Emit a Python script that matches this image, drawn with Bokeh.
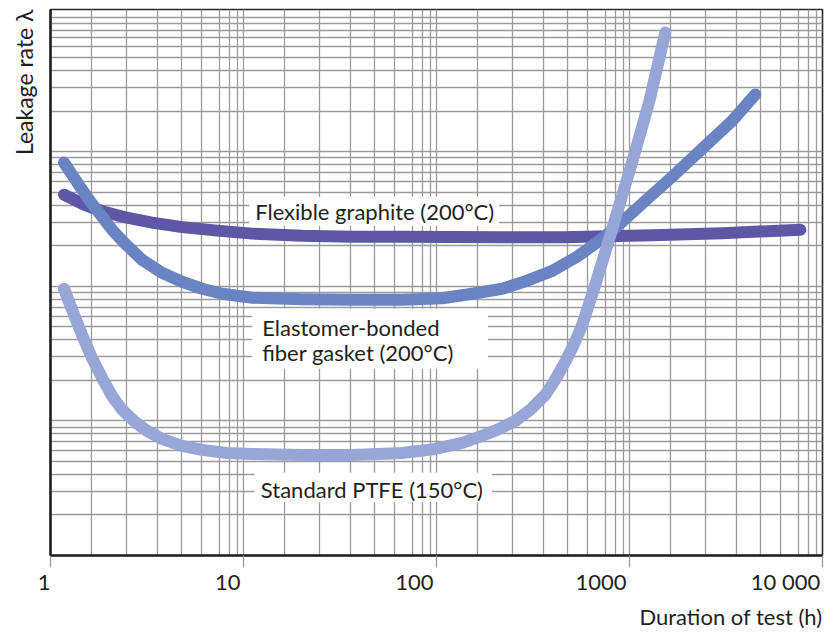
from bokeh.plotting import figure
from bokeh.models import Range1d, FixedTicker, Label, BoxAnnotation, LogAxis, Title
from bokeh.embed import file_html
from bokeh.resources import INLINE

# Test duration (h) and leakage rate (relative, log scale) per gasket type
graphite_hours = [1.175, 1.293, 1.457, 1.64, 1.963, 2.49, 3.36, 4.805, 7.30, 11.1, 20.1,
                  36.6, 66.4, 219, 449, 1313, 3027, 7680]
graphite_leak = [479, 447, 411, 384, 352, 323, 297, 275, 259, 246, 237,
                 233, 233, 231, 231, 239, 248, 263]

fiber_hours = [1.175, 1.293, 1.457, 1.64, 1.849, 2.084, 2.404, 2.981, 3.78, 4.805, 6.1,
               7.75, 11.1, 20.1, 36.6, 66.4, 107, 153, 219, 295, 398, 536, 722,
               918, 1164, 1667, 2384, 3412, 4487]
fiber_leak = [829, 674, 522, 411, 329, 263, 211, 157, 126, 108, 95.8,
              88.0, 82.1, 80.1, 79.4, 79.4, 81.4, 88.0, 95.8, 110, 130, 166, 226,
              302, 411, 652, 1053, 1700, 2655]

ptfe_hours = [1.175, 1.324, 1.457, 1.64, 1.849, 2.084, 2.348, 2.742, 3.164, 3.78, 4.805,
              6.1, 8.22, 11.1, 20.1, 36.6, 66.4, 98.5, 136, 166.5, 206, 256, 306, 366,
              412, 465, 517, 569, 665, 749, 844, 1034, 1266, 1533]
ptfe_leak = [95.8, 61.4, 43.6, 29.4, 20.9, 15.3, 12.1, 9.83, 8.43, 7.35, 6.52,
             6.09, 5.78, 5.68, 5.59, 5.59, 5.78, 6.19, 6.86, 7.60, 8.57, 10.0, 12.1, 15.6,
             20.2, 27.5, 37.4, 51.7, 103, 180, 318, 843, 2353, 7670]

x_decades = [1, 10, 100, 1000, 10000]
x_tick_labels = ["1\u2007", "10", "100", "1000", "10 000"]
# numbers sit to the left of their tick: pixel shift of each label's centre
x_label_shift_px = [0, 15.8, 22.1, 28.5, 37.0]
# in-decade grid multipliers of the printed time grid
x_grid_steps = [1.64, 2.49, 3.57, 4.75, 6.03, 7.47, 8.42, 9.32]
y_decades = [1, 10, 100, 1000, 10000]

FONT = "Lato"
INK = "#231f20"
GRID = "#9b9b9b"
FRAME_W = 772
X_LO, X_HI = 1, 10000
PX_PER_DECADE = FRAME_W / 4.0

p = figure(
    x_axis_type="log", y_axis_type="log",
    x_range=Range1d(X_LO, X_HI), y_range=Range1d(1, 11370),
    frame_width=FRAME_W, frame_height=546,
    min_border_left=48, min_border_right=16, min_border_top=9, min_border_bottom=79,
    output_backend="svg", toolbar_location=None,
)
p.background_fill_color = "white"
p.border_fill_color = "white"
p.outline_line_color = "#2a2a2a"
p.outline_line_width = 1.6

# grid
x_grid_ticks = []
for d in x_decades[:-1]:
    x_grid_ticks.append(d)
    x_grid_ticks.extend(d * s for s in x_grid_steps)
x_grid_ticks.append(x_decades[-1])
y_grid_ticks = [d * k for d in y_decades for k in range(1, 10) if d * k <= 11370]

p.xgrid.ticker = FixedTicker(ticks=x_grid_ticks, minor_ticks=[])
p.ygrid.ticker = FixedTicker(ticks=y_grid_ticks, minor_ticks=[])
for g in (p.xgrid, p.ygrid):
    g.grid_line_color = GRID
    g.grid_line_width = 1.3
    g.minor_grid_line_color = None

# x axis: heavy base line with outward decade ticks
xa = p.xaxis[0]
xa.ticker = FixedTicker(ticks=x_decades, minor_ticks=[])
xa.axis_line_color = INK
xa.axis_line_width = 2.5
xa.major_tick_line_color = GRID
xa.major_tick_line_width = 1.3
xa.major_tick_out = 12
xa.major_tick_in = 0
xa.minor_tick_line_color = None
xa.major_label_text_color = None
xa.major_label_text_font_size = "1px"
xa.major_label_standoff = 0

# second x axis carrying the numbers, each ending just left of its tick
label_pos = []
for v, shift in zip(x_decades, x_label_shift_px):
    pos = v * 10 ** (-shift / PX_PER_DECADE)
    label_pos.append(max(pos, X_LO))
num_axis = LogAxis(
    ticker=FixedTicker(ticks=label_pos, minor_ticks=[]),
    major_label_overrides={pos: s for pos, s in zip(label_pos, x_tick_labels)},
    axis_line_color=None, major_tick_line_color=None, minor_tick_line_color=None,
    major_tick_out=0, major_tick_in=0, major_label_standoff=0,
    major_label_text_font=FONT, major_label_text_font_size="22px",
    major_label_text_color=INK,
)
p.add_layout(num_axis, "below")

ya = p.yaxis[0]
ya.ticker = FixedTicker(ticks=y_decades, minor_ticks=[])
ya.axis_line_color = INK
ya.axis_line_width = 2.5
ya.major_tick_line_color = None
ya.minor_tick_line_color = None
ya.major_label_text_color = None
ya.major_label_text_font_size = "1px"
ya.major_label_standoff = 0

# axis titles
p.add_layout(Title(text="Duration of test (h)", align="right", text_font=FONT,
                   text_font_size="22px", text_font_style="normal",
                   text_color=INK, standoff=7), "below")
p.add_layout(Title(text="Leakage rate λ", align="right", text_font=FONT,
                   text_font_size="23px", text_font_style="normal",
                   text_color=INK, standoff=14), "left")

# curves
p.line(graphite_hours, graphite_leak, line_width=12, line_color="#5e57a6",
       line_cap="round", line_join="round")
p.line(fiber_hours, fiber_leak, line_width=12, line_color="#6a84c3",
       line_cap="round", line_join="round")
p.line(ptfe_hours, ptfe_leak, line_width=12, line_color="#97a5d7",
       line_cap="round", line_join="round")

# white label panels
for l, r, b, t in [(10.7, 211, 282, 463), (11.1, 185, 24.4, 68), (11.4, 194, 2.5, 4.11)]:
    p.add_layout(BoxAnnotation(left=l, right=r, bottom=b, top=t,
                               fill_color="white", fill_alpha=1.0,
                               line_color=None, level="underlay"))


def text(x, y, s, size="22px"):
    p.add_layout(Label(x=x, y=y, text=s, text_font=FONT, text_font_size=size,
                       text_color=INK, text_align="left", text_baseline="alphabetic"))


text(11.5, 361, "Flexible graphite (200°C)")
text(12.5, 49.6, "Elastomer-bonded")
text(12.5, 32.3, "fiber gasket (200°C)")
text(12.3, 3.10, "Standard PTFE (150°C)")

open("out.html", "w").write(file_html(p, INLINE))
